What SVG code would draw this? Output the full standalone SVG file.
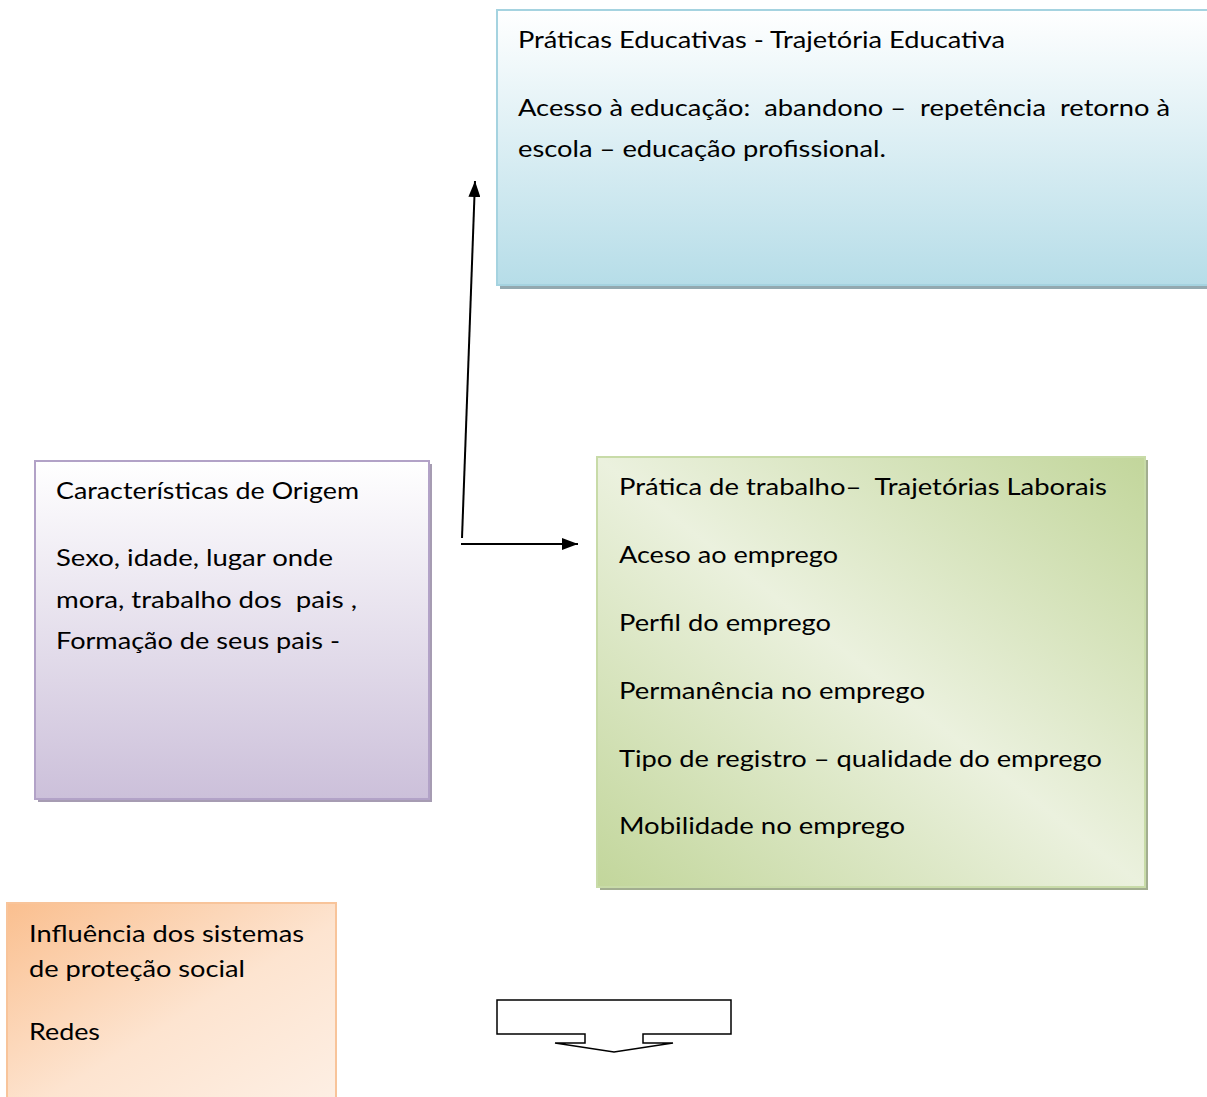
<svg xmlns="http://www.w3.org/2000/svg" width="1207" height="1097" viewBox="0 0 1207 1097">
<defs>
<linearGradient id="gBlue" x1="0" y1="0" x2="0" y2="1">
<stop offset="0" stop-color="#ffffff"/>
<stop offset="1" stop-color="#b6dde8"/>
</linearGradient>
<linearGradient id="gPurple" x1="0" y1="0" x2="0" y2="1">
<stop offset="0" stop-color="#ffffff"/>
<stop offset="1" stop-color="#ccc0da"/>
</linearGradient>
<linearGradient id="gGreen" x1="1" y1="0" x2="0" y2="1">
<stop offset="0" stop-color="#c2d69b"/>
<stop offset="0.5" stop-color="#ebf1de"/>
<stop offset="1" stop-color="#c2d69b"/>
</linearGradient>
<linearGradient id="gOrange" x1="0" y1="0" x2="1" y2="1">
<stop offset="0" stop-color="#fabf8f"/>
<stop offset="0.55" stop-color="#fde4d0"/>
<stop offset="1" stop-color="#fdefe4"/>
</linearGradient>
<marker id="arr" viewBox="0 0 10 10" refX="10" refY="5" markerWidth="10" markerHeight="10" markerUnits="userSpaceOnUse" orient="auto">
<path d="M0,0 L10,5 L0,10 z" fill="#000"/>
</marker>
<marker id="arrBig" viewBox="0 0 16 12" refX="16" refY="6" markerWidth="16" markerHeight="12" markerUnits="userSpaceOnUse" orient="auto">
<path d="M0,0 L16,6 L0,12 z" fill="#000"/>
</marker>
</defs>
<style>
text { font-family: Lato, "Open Sans", "Liberation Sans", sans-serif; font-size: 24px; fill: #000; white-space: pre; }
.conn { stroke: #000; stroke-width: 2; fill: none; }
</style>

<g id="node-educativa">
<rect x="500" y="13" width="712" height="276" fill="#93a9b0"/>
<rect x="497" y="10" width="712" height="275" fill="url(#gBlue)" stroke="#a5d3e0" stroke-width="2"/>
<text x="518" y="48" textLength="487" lengthAdjust="spacingAndGlyphs">Práticas Educativas - Trajetória Educativa</text>
<text x="518" y="116" textLength="652" lengthAdjust="spacingAndGlyphs">Acesso à educação:  abandono –  repetência  retorno à</text>
<text x="518" y="157" textLength="368" lengthAdjust="spacingAndGlyphs">escola – educação profissional.</text>
</g>

<g id="node-origem">
<rect x="38" y="464" width="394" height="338" fill="#a69cb2"/>
<rect x="35" y="461" width="394" height="338" fill="url(#gPurple)" stroke="#b2a2c7" stroke-width="2"/>
<text x="56" y="499" textLength="303" lengthAdjust="spacingAndGlyphs">Características de Origem</text>
<text x="56" y="566" textLength="277" lengthAdjust="spacingAndGlyphs">Sexo, idade, lugar onde</text>
<text x="56" y="608" textLength="301" lengthAdjust="spacingAndGlyphs">mora, trabalho dos  pais ,</text>
<text x="56" y="649" textLength="284" lengthAdjust="spacingAndGlyphs">Formação de seus pais -</text>
</g>

<g id="node-laboral">
<rect x="600" y="460" width="548" height="430" fill="#a2ad90"/>
<rect x="597" y="457" width="548" height="430" fill="url(#gGreen)" stroke="#c8dba8" stroke-width="2"/>
<text x="619" y="495" textLength="488" lengthAdjust="spacingAndGlyphs">Prática de trabalho–  Trajetórias Laborais</text>
<text x="619" y="563" textLength="219" lengthAdjust="spacingAndGlyphs">Aceso ao emprego</text>
<text x="619" y="631" textLength="212" lengthAdjust="spacingAndGlyphs">Perfil do emprego</text>
<text x="619" y="699" textLength="306" lengthAdjust="spacingAndGlyphs">Permanência no emprego</text>
<text x="619" y="767" textLength="483" lengthAdjust="spacingAndGlyphs">Tipo de registro – qualidade do emprego</text>
<text x="619" y="834" textLength="286" lengthAdjust="spacingAndGlyphs">Mobilidade no emprego</text>
</g>

<g id="node-protecao">
<rect x="7" y="903" width="329" height="200" fill="url(#gOrange)" stroke="#f8c49a" stroke-width="2"/>
<text x="29" y="942" textLength="275" lengthAdjust="spacingAndGlyphs">Influência dos sistemas</text>
<text x="29" y="977" textLength="216" lengthAdjust="spacingAndGlyphs">de proteção social</text>
<text x="29" y="1040" textLength="71" lengthAdjust="spacingAndGlyphs">Redes</text>
</g>

<g id="node-blockarrow">
<path d="M497,1000 L731,1000 L731,1034 L643,1034 L643,1043 L673,1043 L614,1052 L555,1043 L585,1043 L585,1034 L497,1034 Z" fill="#fff" stroke="#000" stroke-width="1.5" stroke-linejoin="miter"/>
</g>

<g id="connectors">
<line class="conn" x1="462" y1="538" x2="475" y2="181" marker-end="url(#arrBig)"/>
<line class="conn" x1="461" y1="544" x2="578" y2="544" marker-end="url(#arrBig)"/>
</g>
</svg>
